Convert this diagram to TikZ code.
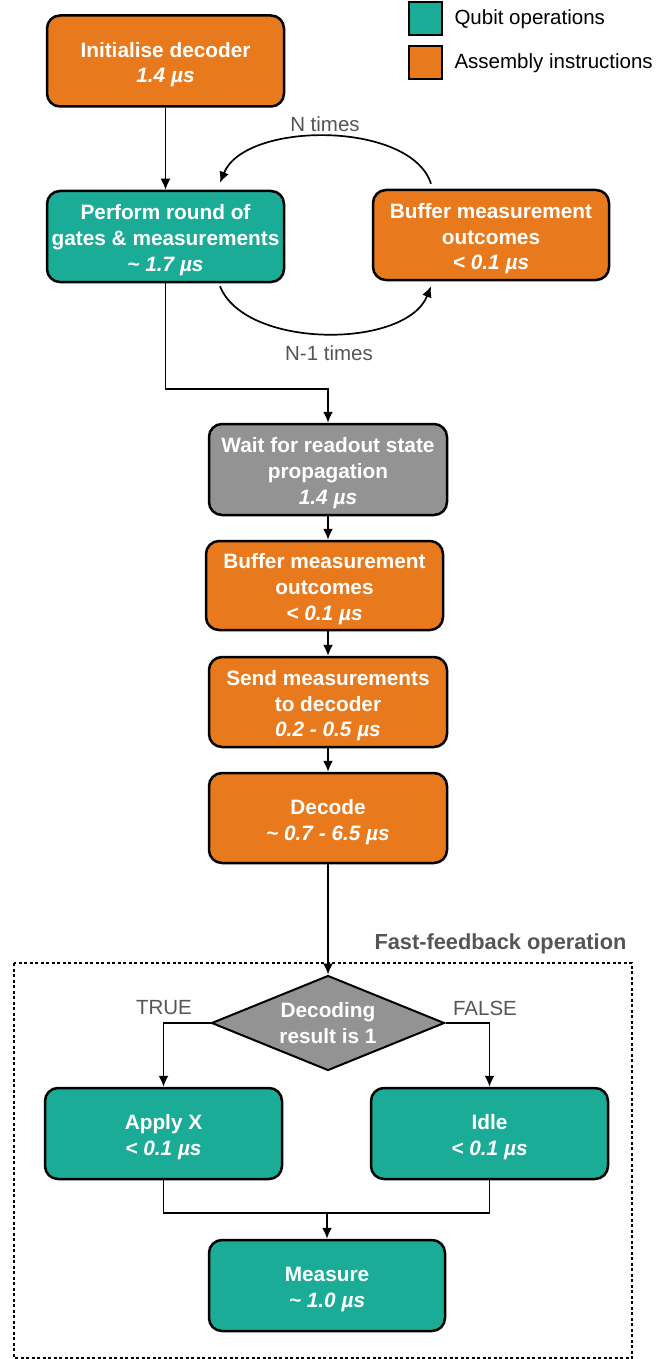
\documentclass[tikz,border=0pt]{standalone}
\usepackage{fontspec}
\setmainfont{Liberation Sans}
\usetikzlibrary{shapes.geometric,arrows.meta,calc}
\definecolor{orng}{HTML}{E87A1D}
\definecolor{tealq}{HTML}{1BAC97}
\definecolor{gry}{HTML}{939393}
\definecolor{lbl}{HTML}{555555}
\newcommand{\fl}{\rule{0pt}{22.5pt}}
\tikzset{
 box/.style={draw=black, line width=2.5pt, rounded corners=13pt, minimum width=237pt, minimum height=91pt, align=center, text=white, font=\fontsize{20.8}{25.8}\selectfont\bfseries, inner sep=0pt},
 qop/.style={box, fill=tealq},
 asm/.style={box, fill=orng},
 waitbox/.style={box, fill=gry},
 conn/.style={line width=1.7pt, -{Latex[length=11pt,width=10pt]}},
 plain/.style={line width=1.7pt},
 lab/.style={text=lbl, font=\fontsize{20.5}{24}\selectfont},
 legsq/.style={draw=black, line width=2.2pt, minimum size=33pt, inner sep=0pt},
}
\begin{document}
\begin{tikzpicture}[x=1pt,y=-1pt]
\useasboundingbox (0,0) rectangle (659,1359);
% legend
\node[legsq, fill=tealq] (lq) at (425.5,18.5) {};
\node[legsq, fill=orng] (la) at (425.5,62.5) {};
\node[lab, text=black, anchor=west] (lqt) at (451,19) {Qubit operations};
\node[lab, text=black, anchor=west] (lat) at (451,63) {Assembly instructions};
% nodes
\node[asm] (init) at (165.5,61) {\fl Initialise decoder\\{\itshape 1.4 µs}};
\node[qop] (perf) at (165.5,236.5) {\fl Perform round of\\gates \& measurements\\{\itshape \textasciitilde{} 1.7 µs}};
\node[asm, minimum width=236pt, minimum height=90pt] (buf1) at (491,235) {\fl Buffer measurement\\outcomes\\{\itshape < 0.1 µs}};
\node[waitbox, minimum width=238pt] (wait) at (328,469.5) {\fl Wait for readout state\\propagation\\{\itshape 1.4 µs}};
\node[asm, minimum height=89pt] (buf2) at (324.5,585.5) {\fl Buffer measurement\\outcomes\\{\itshape < 0.1 µs}};
\node[asm, minimum width=238pt, minimum height=90pt] (send) at (328,702) {\fl Send measurements\\to decoder\\{\itshape 0.2 - 0.5 µs}};
\node[asm, minimum width=238pt, minimum height=90pt] (dec) at (328,818) {\fl Decode\\{\itshape \textasciitilde{} 0.7 - 6.5 µs}};
\node[diamond, aspect=2.45, draw=black, line width=2pt, fill=gry, minimum width=233pt, minimum height=95pt, inner sep=0pt, text=white, align=center, font=\fontsize{20.8}{25.8}\selectfont\bfseries] (dia) at (328,1023) {Decoding\\result is 1};
\node[qop] (appx) at (163.5,1133.5) {\fl Apply X\\{\itshape < 0.1 µs}};
\node[qop] (idle) at (489.5,1133.5) {\fl Idle\\{\itshape < 0.1 µs}};
\node[qop, minimum width=236pt] (meas) at (327,1285.5) {\fl Measure\\{\itshape \textasciitilde{} 1.0 µs}};
% fast-feedback frame
\draw[dash pattern=on 3pt off 2.5pt, line width=1.2pt] (14,963) rectangle (632,1358);
\node[lab, font=\fontsize{21.8}{24}\selectfont\bfseries, anchor=east] (ff) at (630,944) {Fast-feedback operation};
% connectors
\draw[conn] (init) -- (perf);
\coordinate (a1) at ($(buf1.north)+(-60,-5)$);
\coordinate (a2) at ($(perf.north)+(54.5,-7)$);
\draw[conn] (a1) .. controls +(-20,-63) and +(25,-62) .. (a2);
\coordinate (b1) at ($(perf.south)+(54.5,3)$);
\coordinate (b2) at ($(buf1.south)+(-60,5)$);
\draw[conn] (b1) .. controls +(25,63) and +(-25,63) .. (b2);
\node[lab] (nt) at (325,124) {N times};
\node[lab] (n1t) at (329,353) {N-1 times};
\draw[conn] (perf.south) -- ++(0,106) -| (wait.north);
\draw[conn] (wait.south) -- (wait.south |- buf2.north);
\draw[conn] (send.north |- buf2.south) -- (send.north);
\draw[conn] (send) -- (dec);
\draw[conn] (dec) -- (dia);
\draw[conn] (dia.west) -| (appx.north);
\draw[conn] (dia.east) -| (idle.north);
\node[lab] (tr) at (164,1008) {TRUE};
\node[lab] (fa) at (485,1008) {FALSE};
\coordinate (mg) at (327,1213);
\draw[plain] (appx.south) |- (mg) -| (idle.south);
\draw[conn] (mg) -- (meas.north);
\end{tikzpicture}
\end{document}
